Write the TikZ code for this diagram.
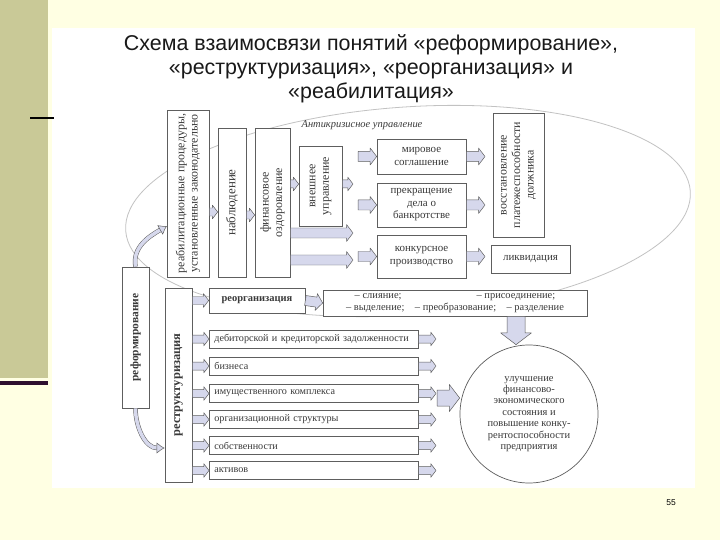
\documentclass[tikz,border=0pt]{standalone}
\usepackage{fontspec}
\setmainfont{Liberation Serif}
\newfontfamily\titlefont{Liberation Sans}
\usetikzlibrary{calc,arrows.meta}

\definecolor{slidebg}{HTML}{FFFFE3}
\definecolor{stripolive}{HTML}{C9C997}
\definecolor{stripline}{HTML}{2E0F2E}
\definecolor{scanline}{HTML}{5E5E5E}
\definecolor{scantext}{HTML}{3A3A3A}
\definecolor{arrfill}{HTML}{D6D8EC}
\definecolor{ovalgray}{HTML}{C2C2C2}

\tikzset{
  box/.style={draw=scanline, fill=white, line width=0.7pt, inner sep=1pt, align=center, text=scantext, font=\fontsize{11}{12.5}\selectfont},
  rowbox/.style={box, anchor=west, minimum width=209bp, minimum height=18bp, inner xsep=5bp, text width=199bp, align=left, font=\fontsize{10.2}{11.5}\selectfont},
  vtext/.style={rotate=90, align=center, inner sep=0pt, text=scantext, font=\fontsize{12}{13.5}\selectfont},
  fatarr/.style={draw=scanline, fill=arrfill, line width=0.5pt, line join=round},
  bentarr/.style={draw=scanline, double=arrfill, double distance=3.5pt, line width=0.5pt, -{Latex[length=8bp,width=11bp,fill=arrfill]}}
}

% block arrow: [half width]{from}{to}
\newcommand{\fatarrow}[3][4]{%
  \coordinate (fa-a) at #2;
  \coordinate (fa-b) at #3;
  \coordinate (fa-h) at ($(fa-b)!{1.3*#1bp}!(fa-a)$);
  \draw[fatarr] ($(fa-a)!#1bp!90:(fa-b)$) -- ($(fa-h)!#1bp!90:(fa-b)$) -- ($(fa-h)!{1.7*#1bp}!90:(fa-b)$) -- (fa-b) -- ($(fa-h)!{1.7*#1bp}!-90:(fa-b)$) -- ($(fa-h)!#1bp!-90:(fa-b)$) -- ($(fa-a)!#1bp!-90:(fa-b)$) -- cycle;}

\begin{document}
\begin{tikzpicture}[x=1bp,y=-1bp]

% Slide
\useasboundingbox (0,0) rectangle (720,540);
\fill[slidebg] (0,0) rectangle (720,540);
\fill[stripolive] (0,0) rectangle (48,378);
\fill[stripline] (0,381) rectangle (48,385);
\fill[white] (52,28) rectangle (695,488);
\draw[line width=2bp, black] (30,118) -- (54,118);

% Title
\node[font=\titlefont\fontsize{21.5}{24}\selectfont, align=center, text=black!90] (title) at (371,69)
  {Схема взаимосвязи понятий «реформирование»,\\«реструктуризация», «реорганизация» и\\«реабилитация»};

% Anti-crisis oval
\draw[ovalgray, line width=0.8pt, rotate around={4:(408,211)}] (408,211) ellipse [x radius=283bp, y radius=104bp];
\node[text=scantext, font=\itshape\fontsize{10.5}{12}\selectfont] (anticr) at (362,125) {Антикризисное управление};

% Procedures
\node[box, minimum width=42bp, minimum height=167bp] (reab) at (188,193.5) {};
\node[vtext] (reab-t) at (reab.center) {реабилитационные процедуры,\\установленные законодательно};
\node[box, minimum width=28bp, minimum height=149bp] (nabl) at (232,202.5) {};
\node[vtext, font=\fontsize{13}{14}\selectfont] (nabl-t) at (nabl.center) {наблюдение};
\node[box, minimum width=35bp, minimum height=149bp] (fin) at (272.5,202.5) {};
\node[vtext] (fin-t) at (fin.center) {финансовое\\оздоровление};
\node[box, minimum width=43bp, minimum height=80bp] (vnesh) at (320.5,186) {};
\node[vtext] (vnesh-t) at (vnesh.center) {внешнее\\управление};

% Outcomes of procedures
\node[box, minimum width=89bp, minimum height=35bp] (mir) at (421.5,156.5) {мировое\\соглашение};
\node[box, minimum width=89bp, minimum height=44bp] (prek) at (421.5,205) {прекращение\\дела о\\банкротстве};
\node[box, minimum width=89bp, minimum height=43bp] (konk) at (421.5,256.5) {конкурсное\\производство};
\node[box, minimum width=51bp, minimum height=124bp] (vosst) at (518.5,175) {};
\node[vtext] (vosst-t) at (vosst.center) {восстановление\\платежеспособности\\должника};
\node[box, minimum width=79bp, minimum height=28bp] (likv) at (530.5,259) {ликвидация};

% Reforming and restructuring
\node[box, minimum width=27bp, minimum height=141bp] (reform) at (135.5,337.5) {};
\node[vtext, font=\bfseries\fontsize{11.5}{13}\selectfont] (reform-t) at (reform.center) {реформирование};
\node[box, minimum width=27bp, minimum height=194bp] (restr) at (178.5,385) {};
\node[vtext, font=\bfseries\fontsize{12.5}{14}\selectfont] (restr-t) at (restr.center) {реструктуризация};
\node[box, minimum width=96bp, minimum height=25bp, font=\bfseries\fontsize{10.5}{12}\selectfont] (reorg) at (257,300.5) {реорганизация};
\node[box, minimum width=264bp, minimum height=26bp, font=\fontsize{10.5}{12}\selectfont] (forms) at (455,303)
  {– слияние;\hspace{75bp}– присоединение;\\– выделение;\quad – преобразование;\quad – разделение};

% Restructuring objects
\node[rowbox] (debt) at (209,339) {дебиторской и кредиторской задолженности};
\node[rowbox] (biz) at (209,366) {бизнеса};
\node[rowbox] (prop) at (209,393.5) {имущественного комплекса};
\node[rowbox] (orgs) at (209,419.5) {организационной структуры};
\node[rowbox] (own) at (209,445.5) {собственности};
\node[rowbox] (asset) at (209,470.5) {активов};

% Goal
\node[draw=scanline, line width=0.7pt, fill=white, circle, minimum size=138bp, inner sep=0pt, align=center, text=scantext, font=\fontsize{10.5}{11.4}\selectfont] (circ) at (529,414)
  {улучшение\\финансово-\\экономического\\состояния и\\повышение конку-\\рентоспособности\\предприятия};

% Arrow levels
\coordinate (lvlnabl) at (0,212);
\coordinate (lvlfin) at (0,215);
\coordinate (lvlvn) at (0,184);
\coordinate (lvlA) at (0,233);
\coordinate (lvlB) at (0,260);
\coordinate (gate) at (353,0);
\coordinate (fan) at (358,0);
\coordinate (rgate) at (485,0);
\coordinate (rowgate) at (436,0);
\coordinate (bigtail) at (437,398);
\coordinate (dnx) at (516,0);
\coordinate (bendtip) at (167,226);

% Arrows inside the oval
\fatarrow{(reab.east |- lvlnabl)}{(nabl.west |- lvlnabl)}
\fatarrow{(nabl.east |- lvlfin)}{(fin.west |- lvlfin)}
\fatarrow{(fin.east |- lvlvn)}{(vnesh.west |- lvlvn)}
\fatarrow{(vnesh.east |- lvlvn)}{(gate |- lvlvn)}
\fatarrow[5]{(fin.east |- lvlA)}{(gate |- lvlA)}
\fatarrow[5]{(fin.east |- lvlB)}{(gate |- lvlB)}
\fatarrow[5]{(fan |- mir.west)}{(mir.west)}
\fatarrow[5]{(fan |- prek.west)}{(prek.west)}
\fatarrow[5]{(fan |- konk.west)}{(konk.west)}
\fatarrow[5]{(mir.east)}{(rgate |- mir.east)}
\fatarrow[5]{(prek.east)}{(rgate |- prek.east)}
\fatarrow[5]{(konk.east)}{(rgate |- konk.east)}

% Arrows of restructuring
\fatarrow{(restr.east |- reorg.west)}{(reorg.west)}
\fatarrow[5]{(reorg.east)}{(forms.west)}
\fatarrow{(restr.east |- debt.west)}{(debt.west)}
\fatarrow{(restr.east |- biz.west)}{(biz.west)}
\fatarrow{(restr.east |- prop.west)}{(prop.west)}
\fatarrow{(restr.east |- orgs.west)}{(orgs.west)}
\fatarrow{(restr.east |- own.west)}{(own.west)}
\fatarrow{(restr.east |- asset.west)}{(asset.west)}
\fatarrow{(debt.east)}{(rowgate |- debt.east)}
\fatarrow{(biz.east)}{(rowgate |- biz.east)}
\fatarrow{(prop.east)}{(rowgate |- prop.east)}
\fatarrow{(orgs.east)}{(rowgate |- orgs.east)}
\fatarrow{(own.east)}{(rowgate |- own.east)}
\fatarrow{(asset.east)}{(rowgate |- asset.east)}
\fatarrow[8]{(bigtail)}{(circ.west |- bigtail)}
\fatarrow[9]{(forms.south -| dnx)}{(circ.north -| dnx)}

% Bent arrows
\draw[bentarr] (reform.north) to[out=100, in=210] (bendtip);
\draw[bentarr] (reform.south) to[out=-90, in=180] (restr.west |- 0,448);

% Page number
\node[font=\titlefont\fontsize{8.5}{10}\selectfont] (pagenum) at (671,503) {55};

\end{tikzpicture}
\end{document}
